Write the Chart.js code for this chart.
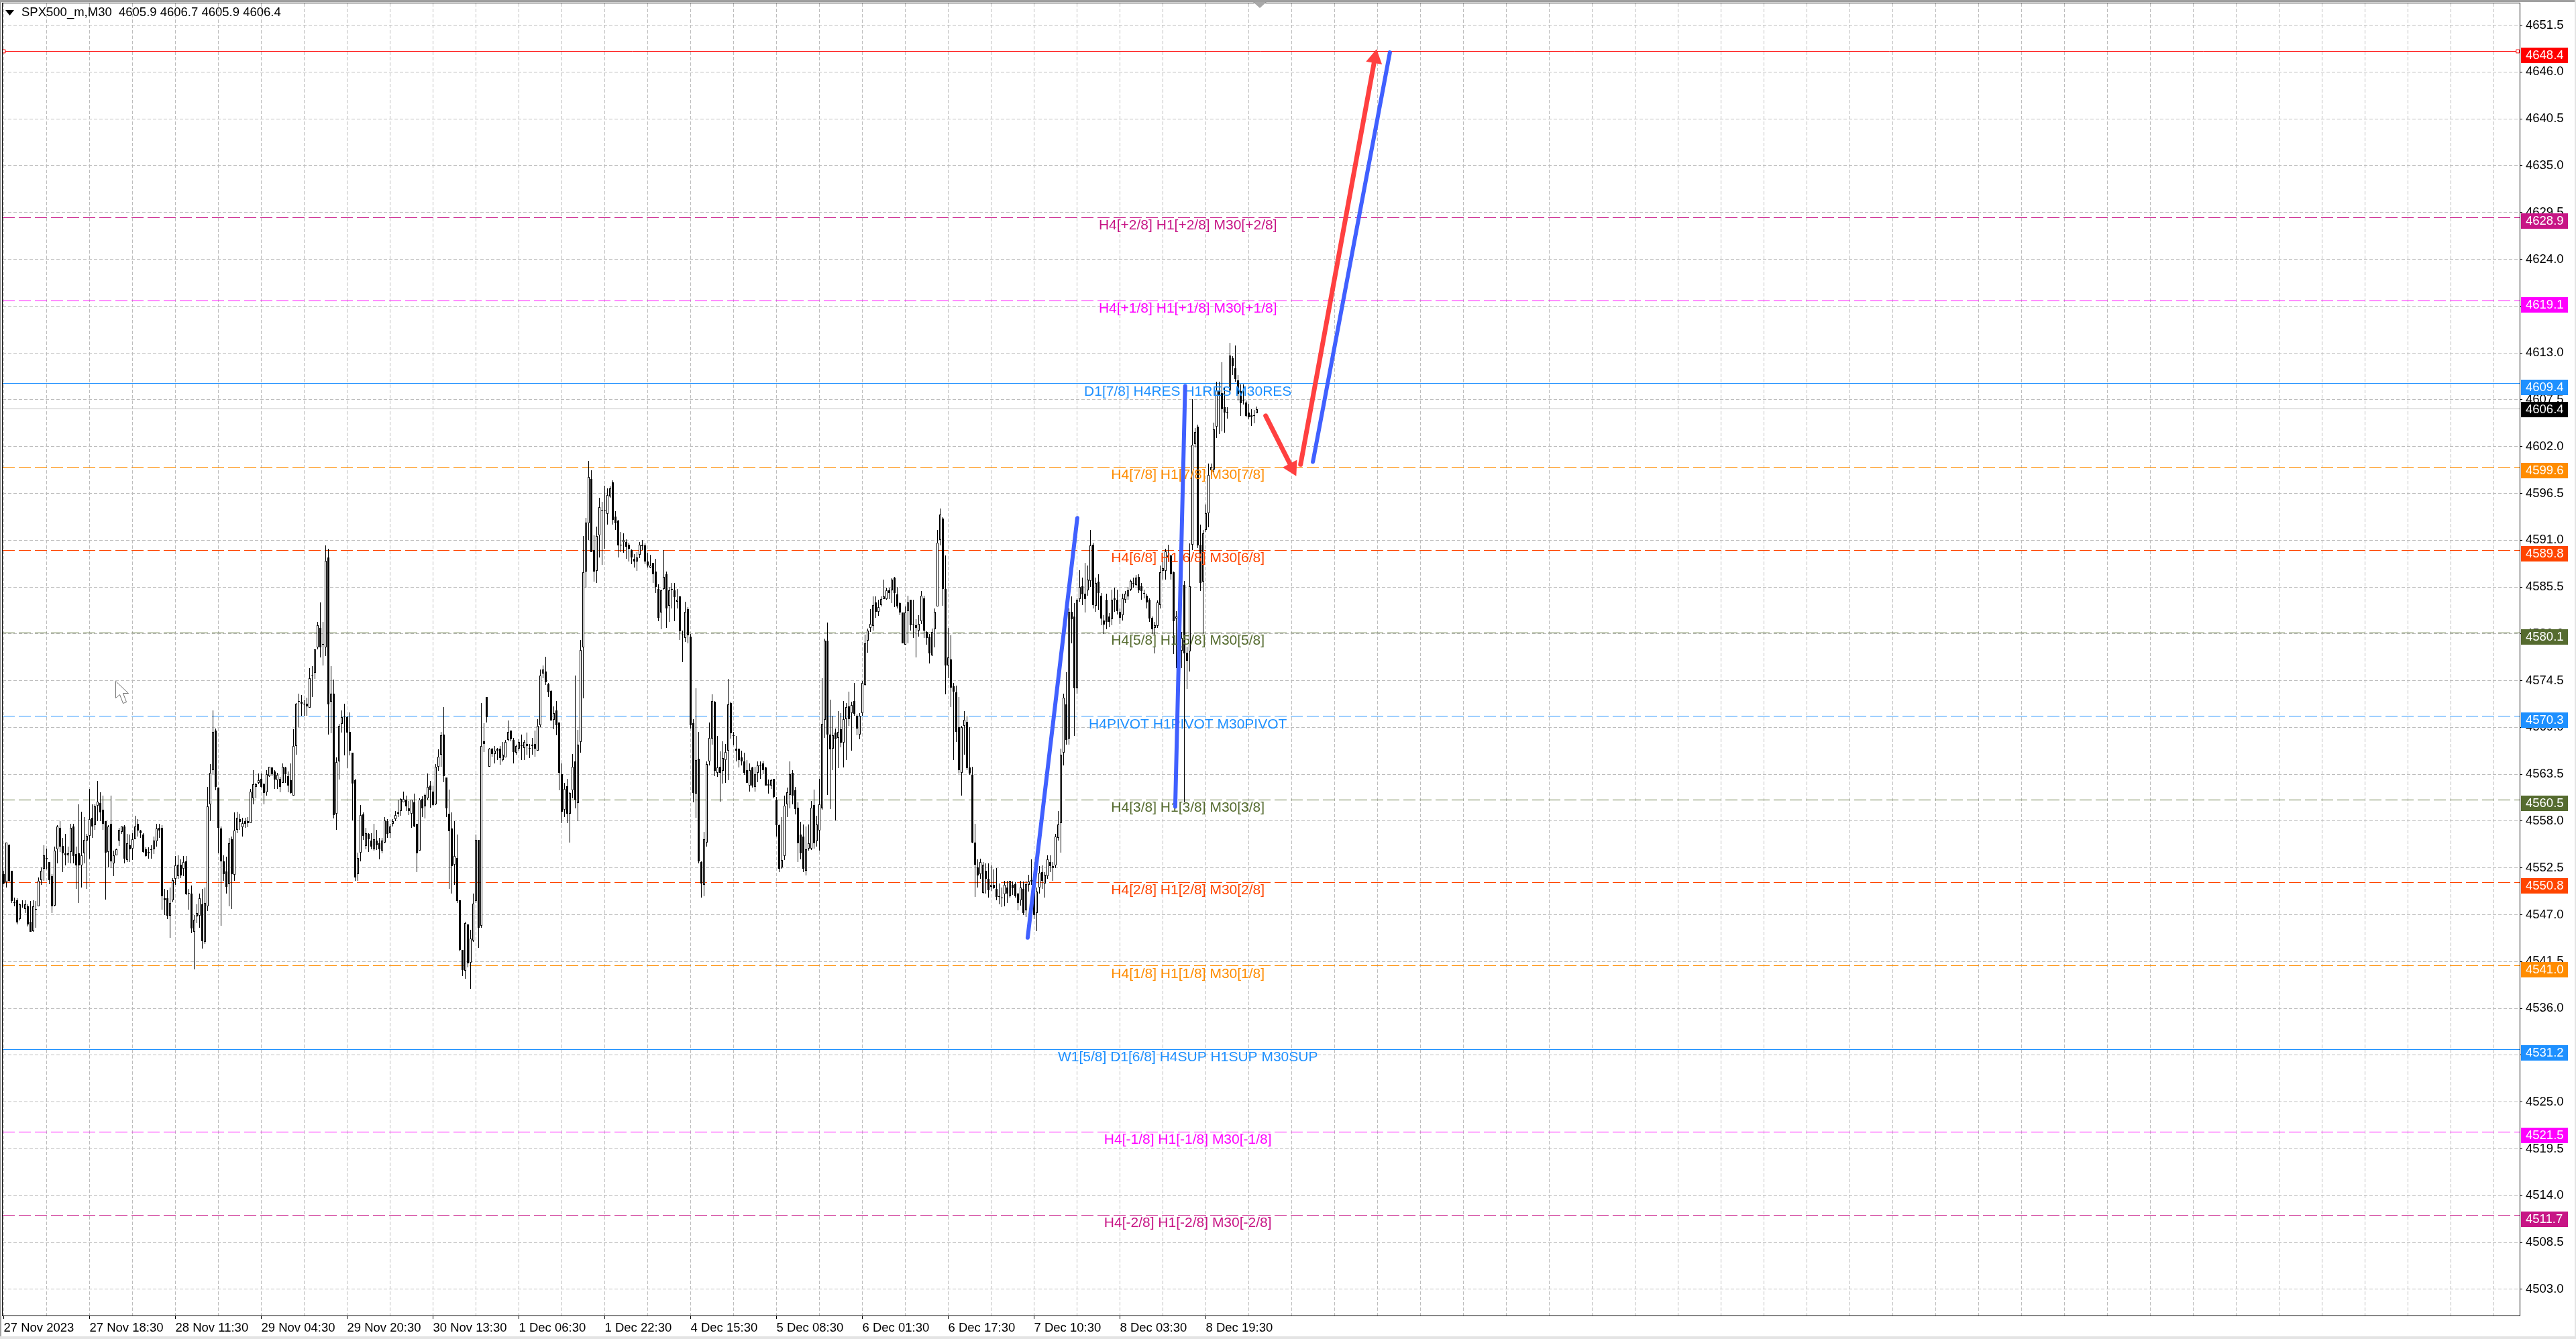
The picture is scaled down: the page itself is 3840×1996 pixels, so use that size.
<!DOCTYPE html>
<html>
<head>
<meta charset="utf-8">
<title>SPX500_m,M30</title>
<script src="https://cdn.jsdelivr.net/npm/chart.js@4/dist/chart.umd.js"></script>
<style>
  html, body { margin: 0; padding: 0; background: #fff; }
  canvas { display: block; }
</style>
</head>
<body>
<canvas id="priceChart" width="3840" height="1996"></canvas>
<script>
// Velas M30
const opens = [
4551.8,4550.8,4555.2,4552.2,4548.5,4548.7,4546.5,4548.1,4547.7,4548.0,
4546.2,4545.1,4547.7,4548.0,4551.1,4552.4,4553.7,4553.2,4551.5,4548.1,
4554.7,4557.2,4555.1,4554.2,4554.0,4554.4,4557.4,4554.1,4554.2,4552.8,
4554.2,4555.7,4556.3,4558.4,4557.5,4559.8,4560.1,4559.3,4558.0,4554.4,
4557.7,4553.0,4554.0,4555.7,4556.7,4557.4,4553.4,4555.2,4554.8,4555.9,
4557.7,4556.9,4556.4,4554.7,4554.2,4554.7,4554.7,4555.6,4557.2,4557.2,
4548.9,4548.9,4546.9,4548.7,4551.2,4551.5,4552.9,4552.4,4553.3,4549.6,
4549.5,4545.0,4546.8,4546.9,4548.2,4543.8,4548.0,4560.0,4564.0,4568.6,
4561.9,4557.1,4553.3,4552.1,4550.6,4555.9,4551.7,4557.0,4558.2,4557.3,
4558.0,4558.0,4557.8,4560.7,4562.0,4562.5,4563.0,4562.3,4561.4,4563.3,
4564.3,4563.8,4562.8,4563.0,4562.5,4564.3,4563.3,4562.8,4561.0,4566.8,
4572.1,4572.0,4571.8,4571.8,4571.3,4575.0,4575.4,4578.4,4580.7,4578.8,
4578.4,4589.0,4572.0,4573.0,4558.9,4565.0,4569.4,4570.4,4570.2,4568.5,
4566.0,4562.8,4551.8,4554.3,4558.8,4555.1,4556.5,4555.7,4554.7,4555.7,
4555.4,4554.5,4555.5,4558.0,4556.6,4557.7,4558.2,4559.0,4559.2,4560.2,
4560.5,4559.5,4558.9,4560.2,4557.7,4554.5,4560.6,4559.7,4560.7,4562.2,
4561.5,4560.0,4564.4,4565.8,4568.2,4563.1,4558.9,4557.1,4552.9,4553.7,
4548.7,4542.9,4540.4,4545.9,4541.4,4544.0,4548.6,4555.8,4545.7,4567.4,
4572.6,4564.4,4566.5,4565.9,4566.5,4566.5,4565.2,4565.5,4567.5,4568.6,
4567.5,4566.0,4566.5,4566.9,4566.6,4567.1,4566.6,4566.8,4567.1,4566.3,
4569.3,4575.3,4575.6,4574.1,4573.3,4569.9,4571.0,4569.6,4563.5,4559.3,
4562.1,4558.9,4561.6,4565.0,4560.1,4567.3,4578.4,4587.3,4593.0,4598.2,
4589.8,4587.4,4591.6,4594.6,4594.5,4594.1,4596.1,4597.8,4593.8,4593.3,
4590.5,4590.8,4590.8,4590.5,4589.8,4588.8,4588.5,4589.3,4590.3,4590.4,
4588.5,4587.8,4588.3,4587.3,4585.3,4582.5,4585.3,4587.0,4583.3,4585.3,
4585.1,4583.8,4584.4,4579.9,4579.5,4582.9,4579.7,4569.5,4561.2,4565.3,
4553.2,4550.5,4555.5,4565.0,4567.7,4572.0,4563.7,4564.4,4563.9,4565.2,
4566.3,4571.9,4568.1,4566.5,4566.5,4565.5,4565.0,4564.0,4562.2,4564.3,
4562.0,4563.7,4564.5,4564.8,4564.3,4562.3,4562.2,4563.0,4560.5,4557.5,
4552.6,4553.9,4560.0,4561.1,4563.7,4561.6,4559.6,4556.4,4556.2,4552.2,
4554.8,4554.8,4559.9,4555.6,4556.9,4559.5,4569.9,4579.2,4568.2,4566.5,
4568.4,4567.8,4568.8,4567.2,4570.0,4571.5,4570.7,4572.1,4570.4,4568.2,
4570.7,4574.0,4579.2,4580.7,4580.9,4583.7,4582.6,4583.4,4584.1,4584.1,
4585.1,4585.1,4586.6,4584.6,4583.6,4582.5,4578.7,4582.7,4584.0,4581.1,
4581.0,4580.4,4581.5,4584.2,4580.2,4579.7,4577.5,4580.5,4583.2,4591.0,
4593.5,4585.3,4576.3,4577.0,4573.8,4573.1,4569.0,4563.7,4569.2,4569.7,
4564.3,4563.4,4555.5,4552.6,4551.8,4549.6,4552.2,4551.2,4550.3,4550.5,
4550.0,4549.2,4549.0,4549.4,4550.2,4549.2,4550.5,4550.6,4549.5,4548.7,
4550.0,4547.5,4550.5,4551.1,4549.7,4547.2,4550.2,4552.0,4550.7,4551.5,
4553.2,4552.5,4552.8,4556.0,4557.8,4566.0,4571.7,4567.7,4582.6,4582.0,
4573.6,4584.1,4585.6,4584.7,4585.1,4586.2,4590.5,4583.3,4586.1,4584.5,
4581.6,4584.0,4582.0,4581.7,4584.0,4584.0,4582.6,4582.2,4584.0,4584.4,
4585.2,4586.0,4585.7,4586.7,4585.6,4584.8,4584.5,4584.0,4581.9,4580.7,
4580.9,4583.4,4587.4,4587.4,4589.2,4589.2,4587.2,4581.8,4581.0,4578.0,
4585.7,4577.8,4577.9,4590.5,4602.3,4604.3,4590.5,4586.1,4592.2,4594.2,
4599.2,4599.3,4604.3,4608.5,4608.3,4606.6,4606.1,4608.6,4612.4,4611.2,
4609.8,4608.5,4607.4,4607.2,4606.0,4605.7,4605.7,4605.9
];
const closes = [
4550.7,4555.5,4551.0,4548.6,4548.4,4546.1,4548.2,4548.0,4548.2,4545.9,
4545.0,4548.0,4547.6,4551.0,4552.2,4554.0,4553.5,4551.1,4548.0,4554.5,
4557.4,4555.0,4554.2,4554.0,4554.2,4557.2,4553.9,4552.8,4552.8,4554.0,
4555.8,4556.3,4558.2,4557.4,4559.7,4560.3,4559.0,4557.7,4554.3,4557.4,
4553.3,4554.0,4554.7,4557.0,4557.4,4553.6,4555.4,4554.7,4555.9,4557.4,
4556.9,4556.6,4554.4,4553.9,4554.4,4554.6,4555.7,4557.1,4556.9,4549.2,
4548.7,4546.9,4548.4,4551.1,4552.8,4552.9,4551.6,4553.2,4549.4,4549.5,
4545.4,4546.4,4547.2,4548.9,4543.9,4548.4,4559.7,4563.7,4568.5,4562.0,
4557.2,4553.3,4551.8,4550.3,4555.4,4551.8,4556.9,4558.4,4557.9,4557.8,
4557.7,4557.8,4561.5,4562.3,4562.3,4562.8,4562.0,4561.3,4563.5,4564.4,
4563.5,4562.9,4563.4,4562.0,4564.4,4563.5,4562.2,4561.3,4566.8,4571.8,
4572.0,4571.8,4571.7,4571.5,4574.8,4575.1,4578.2,4581.0,4578.4,4578.7,
4588.6,4571.7,4573.0,4558.7,4564.9,4569.2,4570.2,4570.3,4568.4,4566.3,
4562.4,4551.4,4553.7,4558.7,4556.3,4556.6,4555.9,4555.0,4555.9,4555.2,
4554.7,4555.7,4558.1,4556.5,4557.4,4558.0,4558.7,4558.9,4560.6,4560.6,
4559.7,4559.2,4560.5,4557.4,4554.2,4560.5,4559.5,4561.1,4562.0,4561.6,
4559.9,4564.4,4565.6,4568.1,4563.3,4559.5,4556.8,4552.7,4553.9,4548.6,
4542.9,4540.5,4546.0,4541.3,4544.2,4548.3,4555.8,4545.5,4566.8,4567.1,
4570.2,4566.5,4565.9,4566.3,4566.3,4565.4,4565.8,4567.3,4568.5,4567.6,
4566.1,4566.8,4567.3,4566.8,4567.3,4566.8,4566.6,4567.0,4566.5,4569.2,
4575.1,4575.8,4574.3,4573.1,4569.8,4570.7,4569.3,4563.7,4559.1,4561.8,
4558.9,4561.3,4564.4,4560.5,4567.0,4578.1,4587.2,4593.1,4598.4,4589.6,
4587.3,4591.5,4594.9,4594.5,4594.4,4596.3,4597.1,4593.4,4593.0,4590.4,
4590.4,4591.0,4590.2,4590.0,4589.0,4588.5,4589.0,4590.5,4590.5,4588.5,
4588.0,4588.0,4587.0,4585.5,4581.9,4585.1,4586.7,4583.0,4585.1,4585.3,
4584.3,4584.0,4580.3,4579.8,4582.6,4579.8,4569.3,4561.3,4565.2,4553.3,
4550.7,4555.9,4564.7,4567.8,4572.1,4563.9,4564.3,4563.7,4565.4,4566.1,
4571.7,4568.3,4568.0,4566.3,4565.2,4565.0,4563.7,4562.5,4564.0,4562.2,
4563.5,4564.5,4564.5,4564.0,4562.2,4562.2,4562.8,4560.8,4557.5,4552.4,
4553.4,4559.8,4561.4,4563.5,4561.0,4559.4,4555.4,4554.2,4552.4,4554.7,
4555.4,4559.6,4555.4,4557.6,4560.0,4569.4,4579.2,4568.2,4566.4,4568.1,
4567.6,4568.5,4567.2,4570.0,4571.4,4570.0,4571.6,4570.6,4568.9,4570.4,
4574.2,4578.9,4580.4,4581.2,4583.4,4582.6,4583.1,4584.1,4584.4,4585.1,
4584.8,4586.4,4584.8,4583.2,4582.5,4578.9,4582.5,4583.7,4581.0,4581.0,
4580.7,4581.2,4584.5,4580.4,4579.5,4577.7,4580.2,4582.6,4590.7,4594.0,
4585.3,4576.3,4577.2,4573.7,4573.2,4568.5,4564.0,4569.0,4569.9,4564.2,
4563.6,4555.5,4552.9,4551.6,4553.2,4552.9,4551.2,4549.9,4550.5,4550.1,
4549.1,4549.2,4549.0,4550.5,4549.5,4551.0,4550.1,4549.2,4548.4,4550.2,
4547.2,4550.6,4550.9,4550.9,4547.0,4549.7,4551.9,4551.0,4551.7,4553.5,
4552.7,4552.7,4556.2,4557.6,4565.8,4572.5,4567.5,4582.6,4581.7,4573.6,
4584.0,4585.5,4584.6,4584.1,4586.4,4590.4,4583.4,4586.0,4584.8,4581.8,
4581.1,4581.4,4581.4,4584.0,4584.2,4582.7,4581.9,4584.2,4584.7,4585.1,
4586.2,4586.0,4586.6,4585.1,4585.0,4584.7,4583.7,4581.8,4580.5,4581.0,
4583.7,4587.2,4587.7,4589.7,4589.0,4587.0,4581.5,4582.0,4579.0,4579.5,
4577.7,4576.8,4585.6,4602.2,4603.7,4590.4,4586.0,4591.8,4594.2,4598.7,
4599.6,4604.0,4608.6,4608.0,4606.4,4606.0,4606.0,4612.7,4611.4,4609.9,
4608.2,4607.1,4607.4,4605.6,4605.4,4605.4,4605.7,4606.4
];
const highs = [
4552.2,4555.5,4555.3,4552.2,4549.0,4548.9,4548.3,4548.7,4548.7,4548.2,
4548.6,4548.7,4548.6,4551.4,4552.6,4555.2,4554.8,4553.2,4551.8,4555.0,
4557.5,4558.0,4556.0,4556.5,4555.0,4557.7,4557.7,4555.0,4560.0,4559.1,
4558.5,4556.5,4561.8,4560.0,4560.0,4562.7,4561.4,4561.0,4558.0,4557.5,
4561.0,4554.5,4554.8,4557.2,4557.4,4557.5,4556.5,4556.4,4556.6,4558.6,
4558.2,4557.0,4556.6,4554.9,4554.9,4555.2,4556.2,4557.7,4557.7,4557.5,
4550.0,4549.9,4550.2,4551.3,4553.9,4554.0,4553.5,4553.9,4553.9,4550.0,
4550.4,4547.0,4548.2,4549.5,4550.0,4550.2,4562.0,4564.7,4571.0,4568.9,
4561.9,4557.4,4554.0,4553.8,4556.0,4556.2,4559.0,4559.1,4558.9,4558.4,
4558.4,4558.5,4561.8,4564.0,4562.5,4563.6,4563.6,4562.5,4564.0,4564.4,
4564.3,4564.0,4563.7,4563.2,4564.8,4564.4,4563.8,4564.8,4568.8,4571.9,
4573.0,4572.8,4572.3,4572.5,4576.0,4576.2,4578.2,4581.4,4583.7,4581.4,
4590.4,4590.0,4576.2,4574.6,4565.5,4569.4,4571.0,4571.8,4570.4,4570.8,
4566.0,4563.0,4554.3,4559.9,4559.0,4557.2,4556.6,4556.6,4557.7,4557.0,
4556.0,4556.0,4558.5,4558.2,4557.7,4558.2,4559.2,4560.5,4560.7,4561.5,
4561.0,4560.4,4560.5,4561.2,4557.7,4560.7,4560.9,4561.2,4563.6,4562.7,
4562.2,4564.7,4566.4,4568.5,4571.4,4563.1,4561.7,4559.0,4558.0,4556.4,
4548.7,4542.9,4546.2,4545.9,4545.2,4549.5,4556.4,4555.8,4571.9,4569.5,
4572.6,4566.6,4566.6,4566.8,4566.6,4566.8,4567.3,4567.5,4569.8,4568.6,
4567.8,4567.0,4567.6,4568.2,4567.5,4568.4,4567.1,4567.8,4568.6,4570.0,
4575.8,4576.3,4577.3,4574.2,4573.4,4571.5,4572.1,4569.6,4564.8,4562.5,
4563.0,4561.4,4565.9,4575.1,4568.7,4579.3,4591.5,4593.6,4600.3,4599.2,
4591.6,4592.6,4596.0,4595.5,4597.4,4597.1,4597.3,4598.0,4594.4,4593.4,
4592.0,4591.8,4591.1,4590.7,4589.9,4589.4,4589.6,4590.8,4591.0,4590.6,
4589.5,4589.3,4588.3,4588.8,4585.8,4585.2,4589.8,4587.3,4585.5,4586.0,
4586.0,4585.3,4584.4,4580.4,4583.8,4583.1,4580.0,4570.0,4573.6,4568.5,
4553.3,4556.7,4565.0,4569.6,4572.9,4572.1,4568.0,4566.2,4567.4,4567.1,
4574.7,4572.0,4568.5,4568.0,4566.5,4566.3,4566.0,4565.2,4564.8,4564.4,
4564.4,4565.0,4565.0,4565.1,4564.4,4562.9,4563.0,4563.0,4560.8,4557.6,
4558.5,4561.0,4561.9,4565.0,4564.0,4562.0,4560.2,4557.9,4557.6,4557.4,
4557.6,4560.4,4561.7,4558.6,4563.0,4574.8,4579.4,4581.3,4572.3,4570.4,
4568.9,4570.9,4570.7,4572.1,4571.9,4573.2,4572.0,4574.2,4570.5,4570.7,
4574.5,4579.9,4580.6,4582.9,4584.4,4584.4,4584.0,4584.4,4586.4,4585.4,
4585.4,4586.5,4586.7,4585.5,4583.7,4582.5,4583.2,4584.5,4584.0,4584.0,
4581.7,4582.2,4585.0,4584.5,4580.3,4580.0,4580.6,4583.0,4592.2,4594.7,
4593.7,4589.2,4580.7,4579.8,4574.2,4573.9,4572.6,4569.2,4570.9,4570.4,
4569.0,4564.4,4557.7,4553.5,4553.6,4553.2,4553.0,4553.0,4552.8,4552.3,
4552.5,4550.7,4550.2,4551.0,4551.0,4551.0,4550.9,4550.8,4549.6,4551.0,
4550.9,4551.0,4551.7,4553.5,4550.0,4550.2,4552.7,4552.8,4552.0,4554.0,
4554.0,4553.2,4556.5,4559.2,4566.5,4573.0,4575.5,4583.0,4584.4,4583.6,
4584.2,4587.5,4586.6,4588.3,4588.0,4592.2,4590.7,4586.6,4587.0,4584.8,
4582.2,4584.7,4582.4,4585.2,4585.4,4585.2,4583.0,4584.7,4585.0,4585.5,
4586.4,4586.6,4586.9,4587.0,4586.0,4585.2,4584.7,4584.2,4582.0,4581.4,
4583.9,4588.0,4588.5,4590.0,4590.5,4589.3,4587.3,4582.7,4582.0,4580.2,
4586.2,4578.5,4590.6,4607.6,4604.2,4604.6,4592.8,4592.2,4595.2,4600.0,
4600.0,4604.8,4609.6,4609.6,4611.9,4609.0,4606.6,4614.2,4612.6,4613.9,
4610.4,4609.3,4609.3,4607.4,4607.0,4606.4,4606.3,4606.7
];
const lows = [
4550.6,4550.2,4550.8,4548.4,4548.0,4545.9,4546.3,4547.8,4547.2,4545.6,
4545.0,4545.0,4545.5,4548.0,4550.5,4551.0,4552.3,4550.6,4547.2,4548.0,
4553.0,4554.4,4552.0,4552.8,4553.1,4553.0,4553.0,4550.0,4548.4,4550.2,
4553.0,4550.0,4553.6,4556.0,4557.0,4558.0,4558.0,4557.0,4548.8,4552.6,
4552.5,4551.5,4554.0,4555.1,4556.5,4553.0,4553.2,4553.2,4553.4,4555.9,
4556.2,4556.0,4554.3,4553.8,4553.6,4553.6,4554.1,4555.0,4556.0,4547.6,
4547.0,4546.5,4544.3,4548.5,4550.5,4551.2,4551.3,4551.5,4549.3,4547.6,
4544.8,4540.6,4546.0,4545.5,4543.0,4543.6,4547.4,4558.0,4563.5,4561.6,
4554.2,4545.7,4551.0,4549.5,4548.0,4547.7,4551.0,4556.6,4557.0,4556.2,
4557.2,4557.3,4557.8,4560.0,4560.7,4562.3,4561.9,4560.0,4561.0,4563.2,
4563.3,4561.8,4561.8,4561.4,4562.5,4562.5,4561.4,4561.2,4561.0,4565.8,
4569.0,4570.4,4570.4,4570.4,4571.3,4572.6,4574.7,4578.2,4577.2,4576.3,
4577.4,4568.2,4568.3,4558.3,4557.0,4562.9,4568.4,4565.7,4564.2,4565.7,
4558.1,4551.0,4551.0,4553.3,4555.8,4554.7,4554.4,4554.7,4554.5,4554.6,
4553.5,4554.2,4555.4,4556.0,4556.0,4557.4,4558.0,4558.5,4558.6,4560.2,
4559.2,4558.7,4557.2,4557.3,4552.0,4554.5,4558.5,4558.3,4560.5,4559.6,
4559.7,4559.9,4563.9,4564.4,4562.6,4558.5,4550.0,4549.5,4550.5,4548.4,
4542.7,4539.8,4539.5,4540.8,4538.3,4543.8,4548.4,4543.1,4545.5,4566.1,
4569.6,4564.4,4565.6,4564.8,4565.2,4564.6,4565.0,4565.5,4567.4,4567.4,
4564.8,4565.8,4566.3,4565.2,4565.2,4565.8,4565.4,4565.8,4565.6,4566.3,
4569.0,4574.8,4574.0,4572.6,4569.8,4568.8,4568.1,4561.6,4557.8,4558.5,
4557.8,4555.5,4560.7,4559.5,4558.0,4566.0,4572.4,4585.4,4591.0,4589.6,
4586.1,4586.0,4589.0,4588.1,4590.0,4592.8,4596.0,4592.8,4592.2,4589.0,
4589.6,4589.5,4588.8,4588.5,4588.2,4587.8,4587.4,4588.9,4589.8,4588.2,
4587.8,4587.7,4586.0,4584.8,4581.5,4580.5,4585.2,4580.7,4581.4,4583.0,
4581.5,4583.0,4579.3,4576.7,4579.0,4578.9,4568.9,4560.2,4558.4,4553.0,
4549.0,4549.2,4555.0,4564.5,4567.0,4563.3,4563.2,4560.3,4562.4,4562.5,
4562.8,4567.7,4566.9,4565.0,4564.3,4564.5,4563.4,4562.5,4561.5,4561.9,
4561.5,4562.6,4563.0,4563.5,4562.2,4561.2,4561.8,4560.7,4556.2,4552.0,
4552.4,4553.4,4558.5,4559.5,4560.0,4558.8,4553.2,4553.5,4552.0,4551.6,
4554.5,4554.6,4554.8,4555.0,4554.5,4559.3,4567.8,4561.1,4559.4,4564.0,
4558.1,4564.2,4566.7,4564.3,4565.2,4569.2,4566.3,4570.4,4568.1,4567.6,
4570.4,4573.9,4577.8,4580.2,4580.4,4581.9,4582.1,4583.2,4584.1,4584.0,
4584.1,4583.6,4583.1,4583.0,4582.2,4578.9,4578.7,4578.9,4580.4,4579.5,
4577.2,4579.7,4581.2,4579.5,4578.7,4576.5,4577.4,4578.4,4583.2,4590.4,
4583.3,4572.9,4574.8,4571.4,4565.2,4567.3,4563.6,4561.0,4565.8,4564.0,
4563.4,4555.4,4549.1,4550.2,4551.2,4549.5,4549.5,4549.0,4549.8,4550.0,
4548.7,4548.2,4547.9,4548.0,4548.4,4549.0,4549.3,4549.0,4547.5,4548.1,
4547.0,4546.7,4549.7,4550.5,4546.5,4545.1,4549.5,4550.0,4549.0,4551.2,
4552.0,4551.0,4552.5,4555.7,4554.3,4564.5,4567.0,4567.0,4578.9,4568.0,
4573.0,4583.8,4583.4,4582.5,4584.5,4585.5,4583.0,4582.6,4582.8,4581.0,
4580.0,4580.5,4580.8,4581.0,4582.6,4582.3,4581.2,4581.6,4583.6,4584.0,
4585.0,4585.4,4585.6,4584.8,4584.0,4584.2,4583.0,4581.4,4580.0,4577.7,
4580.7,4583.0,4586.4,4586.4,4588.5,4586.4,4577.6,4576.0,4574.5,4576.0,
4560.2,4573.5,4575.6,4589.8,4601.9,4590.1,4585.0,4580.0,4592.0,4592.5,
4598.7,4599.0,4603.0,4603.5,4603.8,4603.6,4605.3,4608.2,4610.4,4609.6,
4607.4,4605.6,4606.9,4605.4,4605.2,4604.4,4604.7,4605.9
];

// Ejes
const dateLabels = ['27 Nov 2023','27 Nov 18:30','28 Nov 11:30','29 Nov 04:30','29 Nov 20:30','30 Nov 13:30',
  '1 Dec 06:30','1 Dec 22:30','4 Dec 15:30','5 Dec 08:30','6 Dec 01:30','6 Dec 17:30','7 Dec 10:30','8 Dec 03:30','8 Dec 19:30'];
const xGridBars = [0,16,32,48,64,80,96,112,128,144,160,176,192,208,224,240,256,272,288,304,320,336,352,368,384,400,416,432,448,
  464,480,496,512,528,544,560,576,592,608,624,640,656,672,688,704,720,736,752,768,784,800,816,832,848,864,880,896,912,928];
const priceTicks = [4651.5,4646,4640.5,4635,4629.5,4624,4618.5,4613,4607.5,4602,4596.5,4591,4585.5,4580,4574.5,4569,
  4563.5,4558,4552.5,4547,4541.5,4536,4530.5,4525,4519.5,4514,4508.5,4503];

// Niveles Murrey
const levelValues = [4648.4,4628.9,4619.1,4609.4,4599.6,4589.8,4580.1,4570.3,4560.5,4550.8,4541.0,4531.2,4521.5,4511.7];
const levelColors = ['#ff0000','#c71585','#ff00ff','#1e90ff','#ff8c00','#ff4500','#556b2f','#1e90ff','#556b2f','#ff4500','#ff8c00','#1e90ff','#ff00ff','#c71585'];
const levelSolid = [true,false,false,true,false,false,false,false,false,false,false,true,false,false];
const levelTexts = ['','H4[+2/8] H1[+2/8] M30[+2/8]','H4[+1/8] H1[+1/8] M30[+1/8]','D1[7/8] H4RES H1RES M30RES',
  'H4[7/8] H1[7/8] M30[7/8]','H4[6/8] H1[6/8] M30[6/8]','H4[5/8] H1[5/8] M30[5/8]','H4PIVOT H1PIVOT M30PIVOT',
  'H4[3/8] H1[3/8] M30[3/8]','H4[2/8] H1[2/8] M30[2/8]','H4[1/8] H1[1/8] M30[1/8]','W1[5/8] D1[6/8] H4SUP H1SUP M30SUP',
  'H4[-1/8] H1[-1/8] M30[-1/8]','H4[-2/8] H1[-2/8] M30[-2/8]'];

// Flechas dibujadas a mano: [barra, precio] de inicio y fin
const blueLines = [
  [[381.6,4544.3],[400.1,4593.6]],
  [[436.6,4559.7],[440.3,4609.1]],
  [[487.9,4600.2],[516.6,4648.3]]
];
const redArrows = [
  [[470.3,4605.6],[480.1,4599.5]],
  [[483.3,4599.9],[511.0,4647.6]]
];
const redArrowAngles = [152.7,10.4];

const axisFamily = '"Liberation Sans"';
const titleFont = '18.5px ' + axisFamily;
const levelFont = '21px ' + axisFamily;
const xMin = -0.375;
const xMax = 937.625;
const yMin = 4499.92;
const yMax = 4654.06;
const last = closes.length - 1;
const gridColor = '#bdbdbd';

const candleIdx = closes.map((c, i) => i);

const datasets = [];

levelValues.forEach((v, i) => {
  const marker = i === 0;
  datasets.push({
    type: 'line',
    order: 5,
    data: [{ x: xMin + (marker ? 0.4 : 0), y: v }, { x: xMax - (marker ? 0.7 : 0), y: v }],
    borderColor: levelColors[i],
    borderWidth: 1,
    borderDash: levelSolid[i] ? [] : [18, 6],
    pointRadius: marker ? 3.4 : 0,
    pointStyle: 'rect',
    pointBackgroundColor: '#fff',
    pointBorderColor: levelColors[i],
    pointBorderWidth: 1
  });
});

// Linea del ultimo precio
datasets.push({
  type: 'line',
  order: 6,
  data: [{ x: xMin, y: closes[last] }, { x: xMax, y: closes[last] }],
  borderColor: '#c0c0c0',
  borderWidth: 1,
  pointRadius: 0
});

// Mechas y cuerpos como barras flotantes
datasets.push({
  type: 'bar',
  order: 4,
  grouped: false,
  barThickness: 1,
  maxBarThickness: 1,
  inflateAmount: 0,
  backgroundColor: '#000',
  data: candleIdx.map(i => ({ x: i, y: [lows[i], highs[i]] }))
});
datasets.push({
  type: 'bar',
  order: 3,
  grouped: false,
  barThickness: 3,
  maxBarThickness: 3,
  inflateAmount: 0,
  borderWidth: 1,
  borderSkipped: false,
  borderColor: '#000',
  backgroundColor: candleIdx.map(i => closes[i] >= opens[i] ? '#fff' : '#000'),
  data: candleIdx.map(i => ({ x: i, y: [Math.min(opens[i], closes[i]), Math.max(opens[i], closes[i])] }))
});

blueLines.forEach((seg, i) => {
  datasets.push({
    type: 'line',
    label: i === 0 ? 'firstTrend' : 'trend',
    order: i === 0 ? 2 : 1,
    data: seg.map(p => ({ x: p[0], y: p[1] })),
    borderColor: '#4060ff',
    borderWidth: 6,
    borderCapStyle: 'round',
    pointRadius: 0
  });
});

redArrows.forEach((seg, i) => {
  datasets.push({
    type: 'line',
    label: 'trend',
    order: 1,
    data: seg.map(p => ({ x: p[0], y: p[1] })),
    borderColor: '#ff4040',
    borderWidth: 7,
    borderCapStyle: 'round',
    pointStyle: 'triangle',
    pointRadius: [0, 14],
    pointRotation: [0, redArrowAngles[i]],
    pointBackgroundColor: '#ff4040',
    pointBorderWidth: 0
  });
});

// Bordes nitidos como en la captura
const snapMarks = {
  id: 'snapMarks',
  afterDatasetsUpdate(chart) {
    chart.data.datasets.forEach((ds, i) => {
      const els = chart.getDatasetMeta(i).data;
      if (ds.type === 'bar') {
        els.forEach(bar => {
          const top = Math.round(bar.y);
          let base = Math.round(bar.base);
          if (base - top < 1) base = top + 1;
          bar.y = top;
          bar.base = base;
        });
      } else if (ds.order >= 5) {
        els.forEach(pt => { pt.y = Math.floor(pt.y) + 0.5; });
      }
    });
  }
};

// Textos de nivel, debajo de las flechas
const levelLabels = {
  id: 'levelLabels',
  beforeDatasetDraw(chart, args) {
    if (chart.data.datasets[args.index].label !== 'firstTrend') return;
    const ctx = chart.ctx;
    const y = chart.scales.y;
    ctx.save();
    ctx.font = levelFont;
    ctx.textAlign = 'center';
    ctx.textBaseline = 'middle';
    levelValues.forEach((v, i) => {
      if (!levelTexts[i]) return;
      ctx.fillStyle = levelColors[i];
      ctx.fillText(levelTexts[i], chart.scales.x.getPixelForValue(441.3), y.getPixelForValue(v) + 12);
    });
    ctx.restore();
  }
};

// Marco, titulo, etiquetas de precio
const terminalFrame = {
  id: 'terminalFrame',
  afterDraw(chart) {
    const ctx = chart.ctx;
    const area = chart.chartArea;
    const y = chart.scales.y;
    ctx.save();

    ctx.strokeStyle = '#000';
    ctx.lineWidth = 1;
    ctx.strokeRect(area.left - 0.5, area.top - 0.5, area.right - area.left + 1, area.bottom - area.top + 1);

    ctx.fillStyle = '#a0a0a0';
    ctx.fillRect(0, 0, 3840, 3);
    ctx.fillRect(0, 0, 2, 1996);
    ctx.fillStyle = '#e4e4e4';
    ctx.fillRect(0, 1992, 3840, 4);
    ctx.fillRect(3838, 0, 2, 1996);

    // marcador de desplazamiento
    ctx.fillStyle = '#a8a8a8';
    ctx.beginPath();
    ctx.moveTo(1868, 3);
    ctx.lineTo(1888, 3);
    ctx.lineTo(1878, 12);
    ctx.closePath();
    ctx.fill();

    // titulo
    ctx.fillStyle = '#000';
    ctx.beginPath();
    ctx.moveTo(8, 15);
    ctx.lineTo(21, 15);
    ctx.lineTo(14.5, 23);
    ctx.closePath();
    ctx.fill();
    ctx.font = titleFont;
    ctx.textAlign = 'left';
    ctx.textBaseline = 'middle';
    ctx.fillText('SPX500_m,M30  ' + opens[last].toFixed(1) + ' ' + highs[last].toFixed(1) + ' ' + lows[last].toFixed(1) + ' ' + closes[last].toFixed(1), 32, 19);

    // puntero del raton
    ctx.fillStyle = '#fff';
    ctx.strokeStyle = '#707070';
    ctx.beginPath();
    ctx.moveTo(172.5, 1015.5);
    ctx.lineTo(172.5, 1040.5);
    ctx.lineTo(178.5, 1035.5);
    ctx.lineTo(183.5, 1048.5);
    ctx.lineTo(188.5, 1046.5);
    ctx.lineTo(183.5, 1033.5);
    ctx.lineTo(191.5, 1033.5);
    ctx.closePath();
    ctx.fill();
    ctx.stroke();

    // etiquetas a la derecha
    levelValues.forEach((v, i) => {
      const py = Math.round(y.getPixelForValue(v));
      ctx.fillStyle = levelColors[i];
      ctx.fillRect(3758, py - 6, 70, 23);
      ctx.fillStyle = '#fff';
      ctx.fillText(v.toFixed(1), 3765, py + 6);
    });
    const py = Math.round(y.getPixelForValue(closes[last]));
    ctx.fillStyle = '#000';
    ctx.fillRect(3758, py - 11, 70, 23);
    ctx.fillStyle = '#fff';
    ctx.fillText(closes[last].toFixed(1), 3765, py + 1);

    ctx.restore();
  }
};

new Chart(document.getElementById('priceChart').getContext('2d'), {
  type: 'bar',
  data: { datasets: datasets },
  plugins: [snapMarks, levelLabels, terminalFrame],
  options: {
    responsive: false,
    animation: false,
    layout: { autoPadding: false, padding: { left: 4, top: 5, right: 0, bottom: 0 } },
    plugins: { legend: { display: false }, tooltip: { enabled: false } },
    scales: {
      x: {
        type: 'linear',
        min: xMin,
        max: xMax,
        offset: false,
        afterBuildTicks(scale) { scale.ticks = xGridBars.map(v => ({ value: v })); },
        afterFit(scale) { scale.height = 35; scale.paddingLeft = 0; scale.paddingRight = 0; },
        grid: {
          offset: false,
          color: gridColor,
          tickLength: 5,
          tickColor: ctx => (ctx.index % 2 === 0 && ctx.index / 2 < dateLabels.length) ? '#000' : 'rgba(0,0,0,0)',
          tickBorderDash: []
        },
        border: { display: false, dash: [5, 3] },
        ticks: {
          autoSkip: false,
          maxRotation: 0,
          minRotation: 0,
          align: 'start',
          padding: 3,
          color: '#000',
          font: { family: axisFamily, size: 18.5 },
          callback: (value, index) => index % 2 === 0 ? (dateLabels[index / 2] || '') : ''
        }
      },
      y: {
        position: 'right',
        min: yMin,
        max: yMax,
        afterBuildTicks(scale) { scale.ticks = priceTicks.map(v => ({ value: v })); },
        afterFit(scale) { scale.width = 84; scale.paddingTop = 0; scale.paddingBottom = 0; },
        grid: { color: gridColor, tickLength: 4, tickColor: '#000', tickBorderDash: [] },
        border: { display: false, dash: [5, 3] },
        ticks: {
          autoSkip: false,
          padding: 5,
          color: '#000',
          font: { family: axisFamily, size: 18.5 },
          callback: value => value.toFixed(1)
        }
      }
    }
  }
});
</script>
</body>
</html>
